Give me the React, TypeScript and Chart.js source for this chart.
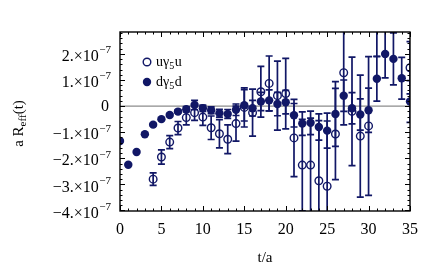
import React, { useEffect, useRef } from 'react';
import { Chart, registerables } from 'chart.js';
Chart.register(...registerables);

const SCALE = 1e-7;
const times = [0,1,2,3,4,5,6,7,8,9,10,11,12,13,14,15,16,17,18,19,20,21,22,23,24,25,26,27,28,29,30,31,32,33,34,35];
// u gamma5 u (open circles), in units of 1e-7
const uValues = [null,null,null,null,-2.80,-1.95,-1.38,-0.84,-0.44,-0.25,-0.42,-0.83,-1.06,-1.27,-0.67,-0.05,-0.25,0.55,0.87,0.40,0.48,-1.22,-2.26,-2.26,-2.86,-3.07,-1.07,1.28,-0.20,-1.15,-0.76,3.50,null,null,null,1.47];
const uErrors = [0,0,0,0,0.24,0.27,0.25,0.25,0.28,0.30,0.32,0.45,0.54,0.55,0.67,0.75,0.90,0.97,1.05,1.32,1.35,1.48,1.75,1.80,2.30,2.50,1.75,2.00,2.08,2.34,2.66,1.60,0,0,0,1.00];
// d gamma5 d (filled circles), in units of 1e-7
const dValues = [-1.34,-2.25,-1.76,-1.08,-0.71,-0.50,-0.34,-0.21,-0.12,0.04,-0.08,-0.16,-0.27,-0.30,-0.14,0.03,-0.08,0.18,0.22,0.08,0.15,-0.35,-0.67,-0.64,-0.80,-0.94,-0.30,0.40,-0.08,-0.32,-0.16,1.05,2.00,1.81,1.07,0.18];
const dErrors = [0.02,0.02,0.03,0.03,0.04,0.05,0.05,0.06,0.10,0.18,0.12,0.13,0.15,0.17,0.22,0.60,0.30,0.35,0.40,0.45,0.45,0.45,0.45,0.45,0.50,0.67,1.24,0.60,0.60,0.60,0.85,0.86,0.92,1.00,0.80,0.80];

const yTickValues = [-4,-3,-2,-1,0,1,2];
const yTickMantissas = ['\u22124.\u00d710','\u22123.\u00d710','\u22122.\u00d710','\u22121.\u00d710','0','1.\u00d710','2.\u00d710'];
const yTickExponent = '\u22127';
const seriesNames = ['u', 'd'];

const NAVY = '#111766';
const FONT = 'Liberation Serif';

function buildPoints(vals: (number | null)[]) {
  return times.map((t, i) => ({ x: t, y: vals[i] === null ? null : (vals[i] as number) * SCALE }));
}

const decorPlugin = {
  id: 'decor',
  beforeDatasetsDraw(chart: any) {
    const { ctx, chartArea: ca, scales } = chart;
    const xs = scales.x, ys = scales.y;
    ctx.save();
    ctx.beginPath();
    ctx.rect(ca.left, ca.top, ca.right - ca.left, ca.bottom - ca.top);
    ctx.clip();
    const y0 = ys.getPixelForValue(0);
    ctx.strokeStyle = '#8c8c8c';
    ctx.lineWidth = 1.2;
    ctx.beginPath();
    ctx.moveTo(ca.left, y0);
    ctx.lineTo(ca.right, y0);
    ctx.stroke();
    ctx.strokeStyle = NAVY;
    ctx.lineWidth = 1.7;
    const drawErr = (vals: (number | null)[], errs: number[]) => {
      times.forEach((t, i) => {
        const v = vals[i];
        const e = errs[i];
        if (v === null || !e) return;
        const x = xs.getPixelForValue(t);
        const yt = ys.getPixelForValue((v + e) * SCALE);
        const yb = ys.getPixelForValue((v - e) * SCALE);
        ctx.beginPath();
        ctx.moveTo(x, yt);
        ctx.lineTo(x, yb);
        ctx.moveTo(x - 3.5, yt);
        ctx.lineTo(x + 3.5, yt);
        ctx.moveTo(x - 3.5, yb);
        ctx.lineTo(x + 3.5, yb);
        ctx.stroke();
      });
    };
    drawErr(uValues, uErrors);
    drawErr(dValues, dErrors);
    ctx.restore();
  },
  afterDatasetsDraw(chart: any) {
    const { ctx, chartArea: ca, scales } = chart;
    const xs = scales.x, ys = scales.y;
    ctx.save();
    ctx.strokeStyle = '#000';
    ctx.lineWidth = 1;
    ctx.beginPath();
    for (let t = 0; t <= 35; t += 1) {
      const x = Math.round(xs.getPixelForValue(t)) + 0.5;
      const len = t % 5 === 0 ? 5 : 2.5;
      ctx.moveTo(x, ca.bottom);
      ctx.lineTo(x, ca.bottom - len);
      ctx.moveTo(x, ca.top);
      ctx.lineTo(x, ca.top + len);
    }
    for (let k = -20; k <= 14; k += 1) {
      const v = k * 0.2;
      const y = Math.round(ys.getPixelForValue(v * SCALE)) + 0.5;
      const len = k % 5 === 0 ? 5 : 2.5;
      ctx.moveTo(ca.left, y);
      ctx.lineTo(ca.left + len, y);
      ctx.moveTo(ca.right, y);
      ctx.lineTo(ca.right - len, y);
    }
    ctx.stroke();
    ctx.lineWidth = 1.4;
    ctx.strokeRect(ca.left, ca.top, ca.right - ca.left, ca.bottom - ca.top);

    // y tick labels
    ctx.fillStyle = '#000';
    const rightEdge = ca.left - 9;
    yTickValues.forEach((v, i) => {
      const y = ys.getPixelForValue(v * SCALE);
      const m = yTickMantissas[i];
      if (v === 0) {
        ctx.font = `16px "${FONT}"`;
        ctx.textAlign = 'right';
        ctx.textBaseline = 'middle';
        ctx.fillText(m, rightEdge - 2, y + 1);
        return;
      }
      ctx.font = `11px "${FONT}"`;
      ctx.textAlign = 'right';
      ctx.textBaseline = 'middle';
      const ew = ctx.measureText(yTickExponent).width;
      ctx.fillText(yTickExponent, rightEdge, y - 3.5);
      ctx.font = `16px "${FONT}"`;
      ctx.fillText(m, rightEdge - ew - 0.5, y + 3);
    });

    // y axis title
    ctx.save();
    ctx.translate(19, (ca.top + ca.bottom) / 2 + 2);
    ctx.rotate(-Math.PI / 2);
    ctx.textBaseline = 'middle';
    ctx.textAlign = 'left';
    const p1 = 'a R', p2 = 'eff', p3 = '(t)';
    ctx.font = `15px "${FONT}"`;
    const w1 = ctx.measureText(p1).width, w3 = ctx.measureText(p3).width;
    ctx.font = `11px "${FONT}"`;
    const w2 = ctx.measureText(p2).width;
    const x0 = -(w1 + w2 + w3) / 2;
    ctx.font = `15px "${FONT}"`;
    ctx.fillText(p1, x0, 0);
    ctx.font = `11px "${FONT}"`;
    ctx.fillText(p2, x0 + w1, 4);
    ctx.font = `15px "${FONT}"`;
    ctx.fillText(p3, x0 + w1 + w2, 0);
    ctx.restore();

    // legend
    const lx = ca.left + 27, ly1 = ca.top + 30, ly2 = ca.top + 50;
    ctx.strokeStyle = NAVY;
    ctx.fillStyle = NAVY;
    ctx.lineWidth = 1.4;
    ctx.beginPath();
    ctx.arc(lx, ly1, 3.8, 0, Math.PI * 2);
    ctx.stroke();
    ctx.beginPath();
    ctx.arc(lx, ly2, 4.2, 0, Math.PI * 2);
    ctx.fill();
    ctx.fillStyle = '#000';
    ctx.textAlign = 'left';
    ctx.textBaseline = 'middle';
    const drawLegendText = (q: string, y: number) => {
      let x = lx + 9;
      ctx.font = `14px "${FONT}"`;
      ctx.fillText(q + '\u03b3', x, y);
      x += ctx.measureText(q + '\u03b3').width;
      ctx.font = `10px "${FONT}"`;
      ctx.fillText('5', x, y + 4);
      x += ctx.measureText('5').width + 0.5;
      ctx.font = `14px "${FONT}"`;
      ctx.fillText(q, x, y);
    };
    drawLegendText(seriesNames[0], ly1);
    drawLegendText(seriesNames[1], ly2);
    ctx.restore();
  },
};

export default function App() {
  const ref = useRef<HTMLCanvasElement | null>(null);
  useEffect(() => {
    if (!ref.current) return;
    const chart = new Chart(ref.current, {
      type: 'scatter',
      data: {
        datasets: [
          {
            label: 'd\u03b35d',
            data: buildPoints(dValues) as any,
            pointRadius: 4.2,
            pointHoverRadius: 4.2,
            backgroundColor: NAVY,
            borderColor: NAVY,
            borderWidth: 0,
            showLine: false,
            clip: 0,
          },
          {
            label: 'u\u03b35u',
            data: buildPoints(uValues) as any,
            pointRadius: 3.8,
            pointHoverRadius: 3.8,
            backgroundColor: 'rgba(0,0,0,0)',
            borderColor: NAVY,
            borderWidth: 1.4,
            showLine: false,
            clip: 0,
          },
        ],
      },
      options: {
        animation: false,
        responsive: false,
        maintainAspectRatio: false,
        events: [],
        layout: { padding: { left: 0, right: 33, top: 32, bottom: 0 } },
        plugins: { legend: { display: false }, tooltip: { enabled: false } },
        scales: {
          x: {
            type: 'linear',
            min: 0,
            max: 35,
            grid: { display: false, drawTicks: false },
            border: { display: false },
            ticks: {
              stepSize: 5,
              autoSkip: false,
              maxRotation: 0,
              padding: 9,
              color: '#000',
              font: { family: FONT, size: 16 },
            },
            title: {
              display: true,
              text: 't/a',
              color: '#000',
              font: { family: FONT, size: 15 },
              padding: { top: 0, bottom: 8 },
            },
            afterFit: (s: any) => { s.height = 64; },
          },
          y: {
            type: 'linear',
            min: -4.02 * SCALE,
            max: 2.84 * SCALE,
            grid: { display: false, drawTicks: false },
            border: { display: false },
            ticks: { display: false },
            afterFit: (s: any) => { s.width = 120; },
          },
        },
      },
      plugins: [decorPlugin],
    });
    return () => chart.destroy();
  }, []);
  return (
    <div style={{ position: 'fixed', left: 0, top: 0, width: 443, height: 275, background: '#fff' }}>
      <canvas ref={ref} width={443} height={275} style={{ width: 443, height: 275 }} />
    </div>
  );
}
